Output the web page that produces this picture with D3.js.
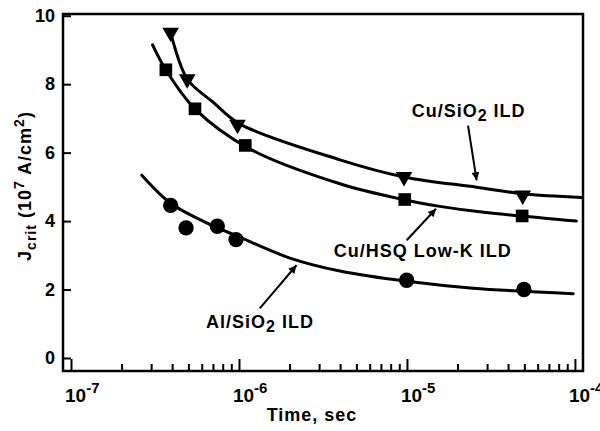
<!DOCTYPE html>
<html><head><meta charset="utf-8">
<script src="https://cdn.jsdelivr.net/npm/d3@7"></script>
<style>
body{margin:0;background:#fff}
text{font-family:"Liberation Sans",Arial,Helvetica,sans-serif;font-weight:bold;fill:#000}
</style>
</head><body>
<svg id="c" width="600" height="431"></svg>
<script>
// ---- data ----
const xTickExponents = [-7, -6, -5, -4];
const yTickValues = [0, 2, 4, 6, 8, 10];

// Cu/SiO2 ILD (triangles)
const cuSiO2Time = [3.92e-7, 4.92e-7, 9.8e-7, 9.6e-6, 4.89e-5];
const cuSiO2J    = [9.51, 8.15, 6.82, 5.29, 4.75];
const cuSiO2FitTime = [3.92e-7, 4.92e-7, 7.03e-7, 1.01e-6, 3.99e-6, 9.6e-6, 2.6e-5, 4.89e-5, 1.1e-4];
const cuSiO2FitJ    = [9.51, 8.15, 7.47, 6.84, 5.79, 5.29, 4.99, 4.80, 4.69];

// Cu/HSQ Low-K ILD (squares)
const cuHSQTime = [3.67e-7, 5.47e-7, 1.09e-6, 9.7e-6, 4.85e-5];
const cuHSQJ    = [8.42, 7.28, 6.21, 4.63, 4.15];
const cuHSQFitTime = [3.06e-7, 3.67e-7, 5.47e-7, 1.16e-6, 3.99e-6, 9.46e-6, 1.57e-5, 2.72e-5, 1.02e-4];
const cuHSQFitJ    = [9.15, 8.42, 7.28, 6.11, 5.09, 4.63, 4.43, 4.27, 4.00];

// Al/SiO2 ILD (circles)
const alSiO2Time = [3.92e-7, 4.84e-7, 7.43e-7, 9.6e-7, 9.96e-6, 4.97e-5];
const alSiO2J    = [4.46, 3.80, 3.85, 3.46, 2.27, 2.00];
const alSiO2FitTime = [2.64e-7, 3.92e-7, 6.28e-7, 1.01e-6, 2.01e-6, 3.99e-6, 9.96e-6, 2.47e-5, 9.77e-5];
const alSiO2FitJ    = [5.34, 4.52, 3.97, 3.53, 2.92, 2.54, 2.24, 2.04, 1.88];

// annotation labels, anchored in data coords
const annLabels = [
  {parts:[["Cu/SiO",0],["2",1],[" ILD",0]], t:1.067e-5, j:7.03, from:[2.31e-5,6.79], to:[2.6e-5,5.19]},
  {parts:[["Cu/HSQ Low-K ILD",0]], t:3.67e-6, j:2.95, from:[9.96e-6,3.44], to:[1.49e-5,4.36]},
  {parts:[["Al/SiO",0],["2",1],[" ILD",0]], t:6.37e-7, j:0.87, from:[1.33e-6,1.45], to:[2.2e-6,2.71]}
];

// ---- chart ----
const svg = d3.select("#c");
const L = 63, R = 583, T = 14, B = 371;
const x = d3.scaleLog().domain([8.96e-8, 1.117e-4]).range([L, R]);
const y = d3.scaleLinear().domain([-0.38, 10.05]).range([B, T]);

const defs = svg.append("defs");
defs.append("marker").attr("id","ah").attr("viewBox","0 0 10 10")
  .attr("refX",10).attr("refY",5).attr("markerWidth",11).attr("markerHeight",8)
  .attr("markerUnits","userSpaceOnUse").attr("orient","auto")
  .append("path").attr("d","M0,0 L10,5 L0,10 Z").attr("fill","#000");

// x ticks
const majors = xTickExponents.map(e => Math.pow(10, e));
const minors = [];
for (let e = -7; e < -4; e++) for (let k = 2; k <= 9; k++) minors.push(k * Math.pow(10, e));

const gxMin = svg.append("g").attr("transform",`translate(0,${B})`)
  .call(d3.axisBottom(x).tickValues(minors).tickSize(-7).tickFormat(""));
const gxMaj = svg.append("g").attr("transform",`translate(0,${B})`)
  .call(d3.axisBottom(x).tickValues(majors).tickSize(-12).tickFormat(""));
[gxMin, gxMaj].forEach(g => {
  g.select(".domain").remove();
  g.selectAll(".tick line").attr("stroke","#000").attr("stroke-width",2);
});

// x tick labels
xTickExponents.forEach(e => {
  const t = svg.append("text").attr("x", x(Math.pow(10,e)) - 6).attr("y", 402)
    .style("font-size","19px");
  t.append("tspan").text("10");
  t.append("tspan").attr("dy",-9).style("font-size","15px").text("-" + Math.abs(e));
});

// y axis
const gy = svg.append("g").attr("transform",`translate(${L},0)`)
  .call(d3.axisLeft(y).tickValues(yTickValues).tickSize(-8).tickPadding(8).tickFormat(d3.format("d")));
gy.select(".domain").remove();
gy.selectAll(".tick line").attr("stroke","#000").attr("stroke-width",2);
gy.selectAll(".tick text").style("font-size","18px").attr("font-weight","bold")
  .style("font-family",'"Liberation Sans",Arial,sans-serif').attr("fill","#000");

// frame
svg.append("rect").attr("x",L).attr("y",T).attr("width",R-L).attr("height",B-T)
  .attr("fill","none").attr("stroke","#000").attr("stroke-width",2.5);

// axis titles
svg.append("text").attr("x",312).attr("y",421).attr("text-anchor","middle")
  .style("font-size","18px").style("letter-spacing","1px").text("Time, sec");

const yt = svg.append("text").attr("transform","translate(31,186) rotate(-90)")
  .attr("text-anchor","middle").style("font-size","18px").style("letter-spacing","1px");
yt.append("tspan").text("J");
yt.append("tspan").attr("dy",5).style("font-size","14px").text("crit");
yt.append("tspan").attr("dy",-5).text(" (10");
yt.append("tspan").attr("dy",-7).style("font-size","14px").text("7");
yt.append("tspan").attr("dy",7).text(" A/cm");
yt.append("tspan").attr("dy",-7).style("font-size","14px").text("2");
yt.append("tspan").attr("dy",7).text(")");

// fit curves
const line = d3.line().x(d => x(d[0])).y(d => y(d[1])).curve(d3.curveCatmullRom.alpha(0.5));
const fits = [
  [cuSiO2FitTime, cuSiO2FitJ],
  [cuHSQFitTime, cuHSQFitJ],
  [alSiO2FitTime, alSiO2FitJ]
];
fits.forEach(([ts, js]) => {
  svg.append("path").datum(ts.map((t,i) => [t, js[i]])).attr("d", line)
    .attr("fill","none").attr("stroke","#000").attr("stroke-width",3).attr("stroke-linecap","round");
});

// markers
const series = [
  {ts: cuSiO2Time, js: cuSiO2J, sym: d3.symbolTriangle, size: 120, rot: 180},
  {ts: cuHSQTime, js: cuHSQJ, sym: d3.symbolSquare, size: 160, rot: 0},
  {ts: alSiO2Time, js: alSiO2J, sym: d3.symbolCircle, size: 185, rot: 0}
];
series.forEach(s => {
  svg.append("g").selectAll("path").data(s.ts.map((t,i)=>[t,s.js[i]])).join("path")
    .attr("d", d3.symbol().type(s.sym).size(s.size))
    .attr("transform", d => `translate(${x(d[0])},${y(d[1])}) rotate(${s.rot})`)
    .attr("fill","#000");
});

// annotations
annLabels.forEach(a => {
  const t = svg.append("text").attr("x", x(a.t)).attr("y", y(a.j))
    .style("font-size","18px").style("letter-spacing","1px");
  let shifted = false;
  a.parts.forEach(([s, sub]) => {
    const sp = t.append("tspan").text(s);
    if (sub) { sp.attr("dy",4).style("font-size","16px"); shifted = true; }
    else if (shifted) { sp.attr("dy",-4); shifted = false; }
  });
  svg.append("line").attr("x1",x(a.from[0])).attr("y1",y(a.from[1]))
    .attr("x2",x(a.to[0])).attr("y2",y(a.to[1]))
    .attr("stroke","#000").attr("stroke-width",2).attr("marker-end","url(#ah)");
});
</script>
</body></html>
